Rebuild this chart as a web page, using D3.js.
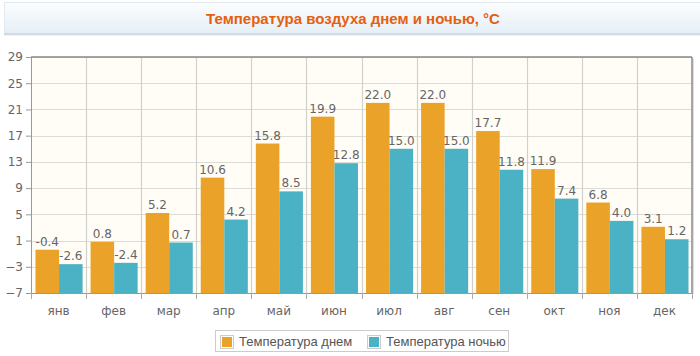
<!DOCTYPE html>
<html><head><meta charset="utf-8">
<script src="https://cdn.jsdelivr.net/npm/d3@7"></script>
<style>
html,body{margin:0;padding:0;background:#fff;}
svg{display:block;}
</style></head>
<body>
<svg id="chart" width="700" height="356"></svg>
<script>
const title = "Температура воздуха днем и ночью, °C";
const months = ["янв","фев","мар","апр","май","июн","июл","авг","сен","окт","ноя","дек"];
const seriesNames = ["Температура днем","Температура ночью"];
const dayTemps = [-0.4,0.8,5.2,10.6,15.8,19.9,22.0,22.0,17.7,11.9,6.8,3.1];
const nightTemps = [-2.6,-2.4,0.7,4.2,8.5,12.8,15.0,15.0,11.8,7.4,4.0,1.2];
const yTicks = [-7,-3,1,5,9,13,17,21,25,29];
const colors = ["#EAA228","#4bb2c5"];

const svg = d3.select("#chart");
const defs = svg.append("defs");
const grad = defs.append("linearGradient").attr("id","tg").attr("x1",0).attr("y1",0).attr("x2",0).attr("y2",1);
grad.append("stop").attr("offset","0%").attr("stop-color","#fbfdfe");
grad.append("stop").attr("offset","100%").attr("stop-color","#e6eff7");

// title box
svg.append("rect").attr("x",4.5).attr("y",2.5).attr("width",700).attr("height",31)
  .attr("fill","url(#tg)").attr("stroke","#e3e8ec");
svg.append("line").attr("x1",4).attr("x2",700).attr("y1",34).attr("y2",34).attr("stroke","#c9d3dc").attr("stroke-width",1.5);
svg.append("line").attr("x1",4).attr("x2",700).attr("y1",35.5).attr("y2",35.5).attr("stroke","#eef1f4").attr("stroke-width",1);
svg.append("text").attr("x",353).attr("y",23.5).attr("text-anchor","middle")
  .attr("font-family","Liberation Sans, Arial, sans-serif").attr("font-weight","bold").attr("font-size",15)
  .attr("fill","#e4600f").text(title);

const L=31, R=692, T=57, B=293;
const x0 = d3.scaleBand().domain(months).range([L,R]).padding(0);
const x1 = d3.scaleBand().domain(seriesNames).range([4.5, x0.bandwidth()-3.5]).padding(0);
const y = d3.scaleLinear().domain([-7,29]).range([B,T]);

// plot bg
svg.append("rect").attr("x",L).attr("y",T).attr("width",R-L).attr("height",B-T).attr("fill","#fffdf6");

// horizontal grid
svg.append("g").selectAll("line").data(yTicks).join("line")
  .attr("x1",L).attr("x2",R).attr("y1",d=>Math.round(y(d))+0.5).attr("y2",d=>Math.round(y(d))+0.5)
  .attr("stroke","#dcdcd6").attr("stroke-width",1);
// vertical grid at category boundaries
const bounds = months.map(m=>x0(m)).concat([R]);
svg.append("g").selectAll("line").data(bounds.slice(1,-1)).join("line")
  .attr("x1",d=>Math.round(d)+0.5).attr("x2",d=>Math.round(d)+0.5).attr("y1",T).attr("y2",B)
  .attr("stroke","#d0d0cc").attr("stroke-width",1.2);

// bars
const data = months.map((m,i)=>({m, vals:[dayTemps[i],nightTemps[i]]}));
const groups = svg.append("g").selectAll("g").data(data).join("g")
  .attr("transform",d=>`translate(${x0(d.m)},0)`);
groups.selectAll("rect").data(d=>d.vals.map((v,j)=>({v,s:seriesNames[j],j}))).join("rect")
  .attr("x",d=>x1(d.s)).attr("width",x1.bandwidth())
  .attr("y",d=>y(d.v)).attr("height",d=>B-y(d.v)).attr("fill",d=>colors[d.j]);
groups.selectAll("text").data(d=>d.vals.map((v,j)=>({v,s:seriesNames[j],j}))).join("text")
  .attr("x",d=>x1(d.s)+x1.bandwidth()/2).attr("y",d=>y(d.v)-4)
  .attr("text-anchor","middle").attr("font-family","DejaVu Sans, sans-serif").attr("font-size",12)
  .attr("fill","#666").text(d=>d.v.toFixed(1));

// border
svg.append("line").attr("x1",L).attr("x2",R).attr("y1",T).attr("y2",T).attr("stroke","#888").attr("stroke-width",1.5);
svg.append("line").attr("x1",R).attr("x2",R).attr("y1",T).attr("y2",B).attr("stroke","#888").attr("stroke-width",1.5);
svg.append("line").attr("x1",R+1.5).attr("x2",R+1.5).attr("y1",T+2).attr("y2",B+1).attr("stroke","#ddd").attr("stroke-width",1);

// axes
const yAxis = d3.axisLeft(y).tickValues(yTicks).tickSize(5).tickPadding(3);
const gy = svg.append("g").attr("transform",`translate(${L},0)`).call(yAxis);
gy.select(".domain").attr("stroke","#999");
gy.selectAll(".tick line").attr("stroke","#999");
gy.selectAll("text").attr("font-family","DejaVu Sans, sans-serif").attr("font-size",12).attr("fill","#666");

const xAxis = d3.axisBottom(x0).tickSize(0).tickPadding(13);
const gx = svg.append("g").attr("transform",`translate(0,${B})`).call(xAxis);
gx.select(".domain").attr("stroke","#999");
gx.selectAll("text").attr("font-family","DejaVu Sans, sans-serif").attr("font-size",12).attr("fill","#666");
svg.append("g").selectAll("line").data(bounds).join("line")
  .attr("x1",d=>Math.round(d)+0.5).attr("x2",d=>Math.round(d)+0.5).attr("y1",B).attr("y2",B+6)
  .attr("stroke","#aaa");

// legend
const lg = svg.append("g");
lg.append("rect").attr("x",215.5).attr("y",330.5).attr("width",293).attr("height",21).attr("fill","#fff").attr("stroke","#ccc");
const legX = [221, 368];
seriesNames.forEach((s,i)=>{
  lg.append("rect").attr("x",legX[i]-0.5).attr("y",335.5).attr("width",13).attr("height",13).attr("fill","#fff").attr("stroke","#ccc");
  lg.append("rect").attr("x",legX[i]+1).attr("y",337).attr("width",10).attr("height",10).attr("fill",colors[i]);
  lg.append("text").attr("x",legX[i]+18).attr("y",346).attr("font-family","Liberation Sans, Arial, sans-serif").attr("font-size",13)
    .attr("fill","#555").text(s);
});
</script>
</body></html>
